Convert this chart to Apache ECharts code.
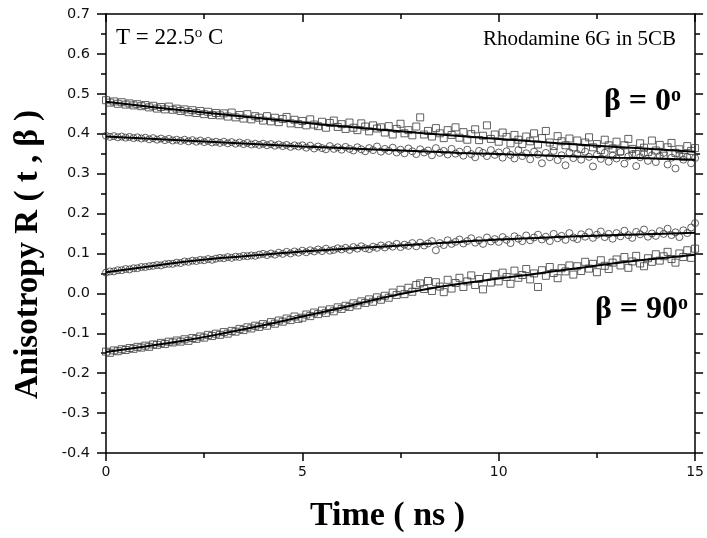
<!DOCTYPE html>
<html>
<head>
<meta charset="utf-8">
<script src="https://cdn.jsdelivr.net/npm/echarts@6/dist/echarts.min.js"></script>
<style>
  html, body { margin: 0; padding: 0; background: #fff; }
  #chart { width: 707px; height: 538px; }
</style>
</head>
<body>
<div id="chart"></div>
<script>
// sampling times (ns)
const times = [
  0.0, 0.1, 0.2, 0.3, 0.4, 0.5, 0.6, 0.7, 0.8, 0.9,
  1.0, 1.1, 1.2, 1.3, 1.4, 1.5, 1.6, 1.7, 1.8, 1.9,
  2.0, 2.1, 2.2, 2.3, 2.4, 2.5, 2.6, 2.7, 2.8, 2.9,
  3.0, 3.1, 3.2, 3.3, 3.4, 3.5, 3.6, 3.7, 3.8, 3.9,
  4.0, 4.1, 4.2, 4.3, 4.4, 4.5, 4.6, 4.7, 4.8, 4.9,
  5.0, 5.1, 5.2, 5.3, 5.4, 5.5, 5.6, 5.7, 5.8, 5.9,
  6.0, 6.1, 6.2, 6.3, 6.4, 6.5, 6.6, 6.7, 6.8, 6.9,
  7.0, 7.1, 7.2, 7.3, 7.4, 7.5, 7.6, 7.7, 7.8, 7.9,
  8.0, 8.1, 8.2, 8.3, 8.4, 8.5, 8.6, 8.7, 8.8, 8.9,
  9.0, 9.1, 9.2, 9.3, 9.4, 9.5, 9.6, 9.7, 9.8, 9.9,
  10.0, 10.1, 10.2, 10.3, 10.4, 10.5, 10.6, 10.7, 10.8, 10.9,
  11.0, 11.1, 11.2, 11.3, 11.4, 11.5, 11.6, 11.7, 11.8, 11.9,
  12.0, 12.1, 12.2, 12.3, 12.4, 12.5, 12.6, 12.7, 12.8, 12.9,
  13.0, 13.1, 13.2, 13.3, 13.4, 13.5, 13.6, 13.7, 13.8, 13.9,
  14.0, 14.1, 14.2, 14.3, 14.4, 14.5, 14.6, 14.7, 14.8, 14.9,
  15.0
]

// beta = 0, squares
const sq0 = [
  0.484, 0.478, 0.481, 0.475, 0.479, 0.473, 0.476, 0.471, 0.474, 0.469,
  0.472, 0.466, 0.470, 0.463, 0.467, 0.461, 0.468, 0.460, 0.463, 0.457,
  0.461, 0.454, 0.459, 0.452, 0.457, 0.449, 0.455, 0.447, 0.452, 0.446,
  0.451, 0.443, 0.453, 0.441, 0.447, 0.438, 0.449, 0.436, 0.444, 0.440,
  0.433, 0.444, 0.431, 0.440, 0.429, 0.437, 0.442, 0.426, 0.435, 0.424,
  0.432, 0.421, 0.436, 0.423, 0.419, 0.430, 0.415, 0.427, 0.433, 0.417,
  0.424, 0.412, 0.428, 0.415, 0.409, 0.426, 0.418, 0.406, 0.421, 0.413,
  0.416, 0.403, 0.419, 0.398, 0.412, 0.425, 0.401, 0.409, 0.396, 0.418,
  0.441, 0.398, 0.407, 0.393, 0.414, 0.401, 0.389, 0.409, 0.397, 0.416,
  0.390, 0.404, 0.385, 0.399, 0.411, 0.384, 0.395, 0.421, 0.387, 0.398,
  0.380, 0.403, 0.392, 0.376, 0.397, 0.385, 0.374, 0.393, 0.381, 0.401,
  0.373, 0.389, 0.407, 0.378, 0.369, 0.394, 0.381, 0.371, 0.388, 0.366,
  0.383, 0.362, 0.378, 0.391, 0.366, 0.374, 0.359, 0.385, 0.371, 0.363,
  0.380, 0.356, 0.371, 0.387, 0.362, 0.349, 0.376, 0.365, 0.354, 0.383,
  0.358, 0.372, 0.345, 0.366, 0.377, 0.352, 0.361, 0.342, 0.369, 0.357,
  0.364
]

// beta = 0, circles
const ci0 = [
  0.395, 0.392, 0.394, 0.391, 0.393, 0.390, 0.392, 0.389, 0.391, 0.388,
  0.390, 0.386, 0.389, 0.385, 0.388, 0.384, 0.387, 0.383, 0.385, 0.382,
  0.385, 0.381, 0.384, 0.380, 0.383, 0.379, 0.382, 0.378, 0.380, 0.377,
  0.380, 0.376, 0.379, 0.375, 0.378, 0.374, 0.377, 0.373, 0.375, 0.372,
  0.375, 0.371, 0.374, 0.370, 0.373, 0.369, 0.372, 0.367, 0.371, 0.368,
  0.371, 0.365, 0.370, 0.363, 0.368, 0.364, 0.361, 0.369, 0.362, 0.366,
  0.360, 0.367, 0.362, 0.358, 0.366, 0.361, 0.356, 0.364, 0.359, 0.368,
  0.355, 0.362, 0.357, 0.365, 0.353, 0.360, 0.351, 0.363, 0.356, 0.349,
  0.361, 0.353, 0.358, 0.346, 0.364, 0.352, 0.357, 0.348, 0.362, 0.350,
  0.355, 0.345, 0.360, 0.349, 0.341, 0.357, 0.352, 0.344, 0.359, 0.347,
  0.353, 0.340, 0.356, 0.347, 0.338, 0.359, 0.344, 0.351, 0.336, 0.355,
  0.348, 0.326, 0.352, 0.341, 0.357, 0.334, 0.346, 0.321, 0.353, 0.339,
  0.349, 0.335, 0.355, 0.342, 0.318, 0.347, 0.337, 0.352, 0.330, 0.345,
  0.338, 0.354, 0.325, 0.343, 0.349, 0.319, 0.341, 0.351, 0.332, 0.346,
  0.329, 0.344, 0.352, 0.323, 0.340, 0.313, 0.347, 0.335, 0.342, 0.326,
  0.339
]

// beta = 90, circles
const ci90 = [
  0.052, 0.055, 0.055, 0.058, 0.058, 0.061, 0.060, 0.063, 0.063, 0.066,
  0.066, 0.068, 0.069, 0.071, 0.070, 0.073, 0.074, 0.074, 0.077, 0.076,
  0.080, 0.079, 0.082, 0.081, 0.084, 0.083, 0.086, 0.084, 0.087, 0.089,
  0.088, 0.091, 0.089, 0.092, 0.091, 0.094, 0.093, 0.095, 0.094, 0.097,
  0.099, 0.096, 0.100, 0.097, 0.102, 0.099, 0.104, 0.100, 0.105, 0.102,
  0.107, 0.103, 0.108, 0.105, 0.110, 0.106, 0.112, 0.107, 0.109, 0.113,
  0.110, 0.114, 0.109, 0.116, 0.112, 0.118, 0.113, 0.111, 0.117, 0.114,
  0.120, 0.115, 0.121, 0.117, 0.124, 0.116, 0.122, 0.119, 0.126, 0.118,
  0.127, 0.120, 0.125, 0.131, 0.108, 0.126, 0.121, 0.133, 0.124, 0.129,
  0.135, 0.125, 0.131, 0.138, 0.127, 0.133, 0.124, 0.140, 0.130, 0.136,
  0.129, 0.141, 0.134, 0.126, 0.143, 0.137, 0.131, 0.145, 0.133, 0.140,
  0.147, 0.135, 0.142, 0.131, 0.149, 0.138, 0.144, 0.134, 0.151, 0.140,
  0.136, 0.148, 0.142, 0.153, 0.139, 0.147, 0.155, 0.141, 0.149, 0.137,
  0.151, 0.143, 0.157, 0.146, 0.139, 0.154, 0.148, 0.160, 0.142, 0.150,
  0.144, 0.156, 0.149, 0.162, 0.146, 0.153, 0.141, 0.158, 0.151, 0.165,
  0.176
]

// beta = 90, squares
const sq90 = [
  -0.146, -0.149, -0.143, -0.145, -0.140, -0.142, -0.137, -0.139, -0.134, -0.136,
  -0.131, -0.134, -0.128, -0.129, -0.124, -0.127, -0.121, -0.123, -0.118, -0.121,
  -0.115, -0.119, -0.112, -0.114, -0.108, -0.111, -0.104, -0.107, -0.101, -0.104,
  -0.097, -0.101, -0.094, -0.096, -0.089, -0.092, -0.085, -0.088, -0.081, -0.084,
  -0.077, -0.081, -0.072, -0.076, -0.068, -0.071, -0.063, -0.067, -0.058, -0.064,
  -0.061, -0.053, -0.057, -0.048, -0.052, -0.043, -0.049, -0.040, -0.045, -0.035,
  -0.039, -0.031, -0.034, -0.025, -0.030, -0.020, -0.024, -0.015, -0.021, -0.010,
  -0.016, -0.006, -0.011, 0.002, -0.004, 0.009, -0.002, 0.014, 0.004, 0.021,
  0.025, 0.011, 0.031, 0.006, 0.028, 0.017, 0.003, 0.034, 0.012, 0.026,
  0.039, 0.016, 0.030, 0.045, 0.021, 0.036, 0.010, 0.041, 0.027, 0.048,
  0.030, 0.052, 0.041, 0.024, 0.057, 0.039, 0.046, 0.061, 0.035, 0.050,
  0.016, 0.058, 0.044, 0.066, 0.051, 0.038, 0.063, 0.055, 0.070, 0.047,
  0.068, 0.056, 0.079, 0.062, 0.074, 0.053, 0.083, 0.069, 0.061, 0.077,
  0.085, 0.070, 0.091, 0.064, 0.080, 0.094, 0.075, 0.068, 0.088, 0.079,
  0.098, 0.082, 0.093, 0.104, 0.086, 0.077, 0.100, 0.091, 0.108, 0.089,
  0.112
]

// fitted curves
const fitT = [0, 1, 2, 3, 4, 5, 6, 7, 8, 9, 10, 11, 12, 13, 14, 15]
const fitSq0 = [0.480, 0.469, 0.458, 0.448, 0.438, 0.428, 0.419, 0.410, 0.402, 0.394, 0.387, 0.380, 0.373, 0.367, 0.361, 0.355]
const fitCi0 = [0.393, 0.388, 0.383, 0.378, 0.373, 0.368, 0.364, 0.360, 0.356, 0.352, 0.349, 0.346, 0.343, 0.340, 0.338, 0.335]
const fitCi90 = [0.053, 0.066, 0.079, 0.089, 0.097, 0.105, 0.111, 0.117, 0.123, 0.129, 0.135, 0.139, 0.143, 0.146, 0.149, 0.152]
const fitSq90 = [-0.147, -0.133, -0.118, -0.100, -0.080, -0.058, -0.036, -0.012, 0.008, 0.024, 0.037, 0.050, 0.063, 0.076, 0.087, 0.097]

const serif = '"Liberation Serif", "Times New Roman", serif'
const sans = '"DejaVu Sans", Arial, sans-serif'

const zip = (xs, ys) => xs.map((x, i) => [x, ys[i]])

function scatter(name, symbol, size, values) {
  return {
    name,
    type: 'scatter',
    symbol,
    symbolSize: size,
    data: zip(times, values),
    itemStyle: { color: 'rgba(255,255,255,0)', borderColor: '#3a3a3a', borderWidth: 1 },
    z: 2,
  }
}

function fit(values) {
  return {
    type: 'line',
    smooth: true,
    showSymbol: false,
    data: zip(fitT, values),
    lineStyle: { color: '#000', width: 2 },
    z: 3,
  }
}

const axisLine = { show: true, onZero: false, lineStyle: { color: '#000', width: 1.5 } }
const tickStyle = { color: '#000', width: 1.5 }

const chart = echarts.init(document.getElementById('chart'))

chart.setOption({
  animation: false,
  grid: { left: 106, right: 10, top: 14, bottom: 84 },
  xAxis: [
    {
      type: 'value',
      position: 'bottom',
      min: 0,
      max: 15,
      interval: 5,
      axisLine,
      axisTick: { show: true, length: 8, lineStyle: tickStyle },
      minorTick: { show: true, splitNumber: 2, length: 5, lineStyle: tickStyle },
      splitLine: { show: false },
      axisLabel: { fontFamily: sans, fontSize: 14, color: '#111', margin: 12 },
      name: 'Time ( ns )',
      nameLocation: 'middle',
      nameGap: 46,
      nameTextStyle: { fontFamily: serif, fontWeight: 'bold', fontSize: 34, color: '#000', padding: [0, 26, 0, 0] },
    },
    {
      type: 'value',
      position: 'top',
      min: 0,
      max: 15,
      interval: 5,
      axisLine,
      axisTick: { show: true, inside: true, length: 8, lineStyle: tickStyle },
      minorTick: { show: true, splitNumber: 2, length: 5, lineStyle: tickStyle },
      splitLine: { show: false },
      axisLabel: { show: false },
    },
  ],
  yAxis: [
    {
      type: 'value',
      position: 'left',
      min: -0.4,
      max: 0.7,
      interval: 0.1,
      axisLine,
      axisTick: { show: true, length: 9, lineStyle: tickStyle },
      minorTick: { show: true, splitNumber: 2, length: 5, lineStyle: tickStyle },
      splitLine: { show: false },
      axisLabel: {
        fontFamily: sans,
        fontSize: 14.5,
        color: '#111',
        margin: 16,
        formatter: v => v.toFixed(1),
      },
      name: 'Anisotropy R ( t , β )',
      nameLocation: 'middle',
      nameGap: 61,
      nameTextStyle: { fontFamily: serif, fontWeight: 'bold', fontSize: 33, color: '#000', padding: [0, 42, 0, 0] },
    },
    {
      type: 'value',
      position: 'right',
      min: -0.4,
      max: 0.7,
      interval: 0.1,
      axisLine,
      axisTick: { show: true, length: 8, lineStyle: tickStyle },
      minorTick: { show: true, splitNumber: 2, length: 5, lineStyle: tickStyle },
      splitLine: { show: false },
      axisLabel: { show: false },
    },
  ],
  graphic: [
    {
      type: 'text',
      left: 116,
      top: 26,
      style: {
        text: 'T = 22.5{s|o} C',
        font: '23px ' + serif,
        fill: '#000',
        rich: { s: { fontSize: 15, fontFamily: serif, verticalAlign: 'top', fill: '#000' } },
      },
    },
    {
      type: 'text',
      right: 31,
      top: 29,
      style: { text: 'Rhodamine 6G in 5CB', font: '21px ' + serif, fill: '#000' },
    },
    {
      type: 'text',
      right: 26,
      top: 86,
      style: {
        text: 'β = 0{s|o}',
        font: 'bold 32px ' + serif,
        fill: '#000',
        rich: { s: { fontSize: 20, fontWeight: 'bold', fontFamily: serif, verticalAlign: 'top', fill: '#000' } },
      },
    },
    {
      type: 'text',
      right: 19,
      top: 294,
      style: {
        text: 'β = 90{s|o}',
        font: 'bold 32px ' + serif,
        fill: '#000',
        rich: { s: { fontSize: 20, fontWeight: 'bold', fontFamily: serif, verticalAlign: 'top', fill: '#000' } },
      },
    },
  ],
  series: [
    scatter('sq0', 'rect', 7, sq0),
    scatter('ci0', 'circle', 7, ci0),
    scatter('ci90', 'circle', 7, ci90),
    scatter('sq90', 'rect', 7, sq90),
    fit(fitSq0),
    fit(fitCi0),
    fit(fitCi90),
    fit(fitSq90),
  ],
})
</script>
</body>
</html>
